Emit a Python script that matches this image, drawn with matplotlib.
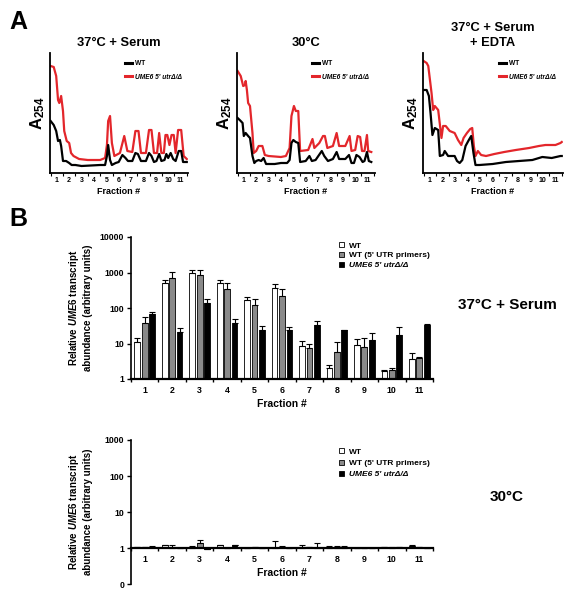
import matplotlib
matplotlib.use("Agg")
import matplotlib.pyplot as plt
import numpy as np
from matplotlib.lines import Line2D

plt.rcParams["font.family"] = ["Liberation Sans", "DejaVu Sans"]
plt.rcParams["font.weight"] = "bold"
plt.rcParams["mathtext.fontset"] = "custom"
plt.rcParams["mathtext.it"] = "Liberation Sans:italic:bold"
plt.rcParams["mathtext.bf"] = "Liberation Sans:bold"
plt.rcParams["mathtext.rm"] = "Liberation Sans:bold"

RED = "#e3262b"
GRAY = "#8a8a8a"

# ---- panel A: A254 profiles (fraction position, trace height)
serum_red_x = [0.5, 0.75, 0.95, 1.1, 1.2, 1.35, 1.5, 1.6, 1.8, 2.0, 2.15, 2.35, 2.8, 3.5, 4.5, 4.9,
               5.05, 5.15, 5.3, 5.45, 5.65, 6.1, 6.45, 6.7, 7.1, 7.35, 7.6, 7.8, 8.2, 8.45, 8.65,
               8.85, 9.1, 9.27, 9.45, 9.65, 9.78, 9.93, 10.1, 10.27, 10.45, 10.6, 10.8, 11.05, 11.25, 11.5]
serum_red_y = [107, 106, 97, 73, 70, 77, 62, 42, 32, 30, 20, 17, 14, 13, 13, 15,
               28, 52, 57, 30, 17, 20, 37, 22, 21, 42, 42, 20, 20, 43, 43,
               20, 20, 40, 20, 20, 38, 38, 28, 38, 38, 20, 43, 43, 17, 14]
serum_blk_x = [0.5, 0.75, 0.95, 1.1, 1.25, 1.35, 1.5, 1.75, 2.0, 2.2, 2.5, 3.0, 4.5, 4.9, 5.05, 5.15,
               5.3, 5.45, 5.75, 6.0, 6.3, 6.55, 6.75, 7.1, 7.35, 7.55, 7.8, 8.2, 8.45, 8.65, 8.85,
               9.05, 9.27, 9.45, 9.7, 9.85, 10.0, 10.2, 10.4, 10.6, 10.85, 11.05, 11.2, 11.5]
serum_blk_y = [52, 48, 42, 32, 33, 27, 12, 12, 10, 8, 8, 7, 8, 8, 17, 28,
               13, 8, 10, 11, 18, 15, 12, 12, 20, 19, 12, 12, 20, 17, 11,
               12, 19, 12, 13, 19, 15, 20, 14, 12, 22, 22, 11, 11]

c30_red_x = [0.5, 0.75, 0.95, 1.1, 1.15, 1.25, 1.35, 1.5, 1.7, 1.8, 2.0, 2.2, 2.5, 2.7, 3.0, 4.0,
             4.4, 4.7, 4.85, 5.05, 5.2, 5.4, 5.55, 6.2, 6.55, 6.7, 7.1, 7.4, 7.55, 7.75, 8.2,
             8.5, 8.7, 9.2, 9.55, 9.7, 10.0, 10.2, 10.4, 10.55, 10.75, 10.95, 11.05, 11.3]
c30_red_y = [102, 97, 87, 88, 92, 83, 70, 67, 40, 20, 22, 27, 27, 18, 17, 16,
             17, 25, 57, 67, 62, 62, 22, 23, 34, 25, 30, 37, 37, 25, 27,
             40, 27, 27, 37, 22, 23, 37, 36, 22, 22, 38, 22, 21]
c30_blk_x = [0.5, 0.75, 0.9, 1.0, 1.15, 1.35, 1.5, 1.7, 1.85, 2.0, 2.2, 2.4, 2.6, 2.8, 3.5, 4.0,
             4.5, 4.7, 4.85, 5.0, 5.2, 5.4, 5.55, 6.0, 6.3, 6.5, 6.8, 7.3, 7.5, 7.8, 8.2,
             8.5, 8.7, 9.2, 9.5, 9.7, 9.9, 10.1, 10.35, 10.6, 10.75, 10.95, 11.1, 11.3]
c30_blk_y = [55, 52, 50, 37, 40, 37, 35, 17, 10, 12, 13, 12, 15, 9, 9, 10,
             10, 13, 30, 33, 31, 30, 11, 12, 17, 12, 13, 22, 17, 12, 14,
             21, 14, 14, 18, 10, 10, 18, 16, 11, 12, 21, 12, 11]

edta_red_x = [0.5, 0.74, 0.87, 1.13, 1.26, 1.39, 1.66, 1.92, 2.05, 2.26, 2.58, 2.97, 3.24, 3.5,
              3.68, 3.95, 4.21, 4.37, 4.5, 4.63, 4.82, 5.08, 5.47, 6.13, 6.92, 7.84, 8.9, 9.68,
              10.2, 11.0, 11.4, 11.5]
edta_red_y = [112, 110, 107, 80, 63, 67, 63, 35, 47, 47, 42, 40, 33, 28,
              35, 40, 44, 45, 27, 17, 22, 18, 17, 19, 21, 23, 25, 27,
              28, 28, 30, 31]
edta_blk_x = [0.5, 0.74, 0.92, 1.05, 1.2, 1.39, 1.66, 1.79, 2.05, 2.18, 2.45, 2.71, 2.97, 3.16,
              3.37, 3.58, 3.84, 4.1, 4.29, 4.47, 4.63, 4.95, 6.0, 7.05, 8.1, 9.16, 9.95, 10.7,
              11.4, 11.5]
edta_blk_y = [83, 83, 77, 60, 38, 45, 43, 17, 18, 22, 17, 17, 17, 12,
              10, 13, 27, 33, 37, 20, 8, 8, 9, 11, 12, 13, 16, 15,
              17, 17]

# ---- panel B: relative UME6 transcript abundance per fraction
fractions = list(range(1, 12))
wt_37 = [11, 490, 980, 490, 168, 355, 8.5, 2.0, 8.8, 1.7, 3.6]
wt_37_sd = [3.5, 120, 230, 120, 40, 105, 3.5, 0.5, 4.4, 0.1, 1.8]
wt5_37 = [37, 720, 850, 333, 121, 216, 7.5, 5.7, 7.9, 1.8, 3.9]
wt5_37_sd = [20, 320, 360, 157, 57, 117, 2.1, 5.2, 6.8, 0.3, 0.3]
ume_37 = [66, 21, 135, 37, 24, 24, 33, 24, 12.7, 17.5, 33]
ume_37_sd = [13, 7, 40, 11, 7, 6, 10, 0.5, 6.7, 12.5, 3]

wt_30 = [1.07, 1.2, 1.0, 1.18, 1.0, 1.0, 1.0, 1.0, 1.0, 1.04, 1.15]
wt_30_sd = [0.02, 0.03, 0.12, 0.02, 0.01, 0.55, 0.25, 0.13, 0.01, 0.02, 0.05]
wt5_30 = [1.05, 1.0, 1.38, 1.0, 1.05, 1.06, 1.05, 1.0, 1.0, 1.03, 1.05]
wt5_30_sd = [0.02, 0.22, 0.3, 0.01, 0.01, 0.05, 0.03, 0.15, 0.01, 0.02, 0.02]
ume_30 = [1.1, 1.0, 0.93, 1.18, 1.0, 1.0, 1.0, 1.0, 1.0, 1.06, 1.02]
ume_30_sd = [0.02, 0.01, 0.01, 0.03, 0.01, 0.01, 0.42, 0.13, 0.01, 0.02, 0.01]

series_labels = ["WT", "WT (5' UTR primers)", "UME6 5' utrΔ/Δ"]

W, H = 578, 599
fig = plt.figure(figsize=(W / 100, H / 100), dpi=100)


def px_rect(left, top, right, bottom):
    return [left / W, 1 - bottom / H, (right - left) / W, (bottom - top) / H]


def profile(rect, title, rx, ry, bx, by):
    ax = fig.add_axes(rect)
    ax.plot(rx, ry, color=RED, lw=1.6, solid_joinstyle="round")
    ax.plot(bx, by, color="black", lw=1.6, solid_joinstyle="round")
    ax.set_xlim(0.45, 11.6)
    ax.set_ylim(0, 120)
    ax.set_yticks([])
    ax.set_xticks(fractions)
    ax.set_xticklabels([str(f) for f in fractions], fontsize=5, fontweight="bold")
    ax.tick_params(axis="x", which="major", length=0, pad=3)
    ax.set_xticks(np.arange(0.5, 12, 1), minor=True)
    ax.tick_params(axis="x", which="minor", length=2, width=0.8)
    for s in ["top", "right"]:
        ax.spines[s].set_visible(False)
    for s in ["left", "bottom"]:
        ax.spines[s].set_linewidth(1.3)
    ax.set_xlabel("Fraction #", fontsize=6.5, fontweight="bold", labelpad=2)
    ax.set_ylabel(r"$\mathbf{A_{254}}$", fontsize=12, labelpad=2)
    ax.set_title(title, fontsize=9.3, fontweight="bold", pad=5, linespacing=1.3)
    handles = [Line2D([], [], color="black", lw=2.2), Line2D([], [], color=RED, lw=2.2)]
    leg = ax.legend(handles, [series_labels[0], series_labels[2]], loc="upper left",
                    bbox_to_anchor=(0.52, 0.97), frameon=False, fontsize=4.8,
                    handlelength=1.0, handletextpad=0.5, labelspacing=1.0, borderpad=0)
    leg.get_texts()[1].set_fontstyle("italic")
    for t in leg.get_texts():
        t.set_fontweight("bold")
    return ax


profile(px_rect(50, 53, 188, 173), "37°C + Serum", serum_red_x, serum_red_y, serum_blk_x, serum_blk_y)
profile(px_rect(237, 53, 375, 173), "30°C", c30_red_x, c30_red_y, c30_blk_x, c30_blk_y)
profile(px_rect(423, 53, 563, 173), "37°C + Serum\n+ EDTA", edta_red_x, edta_red_y, edta_blk_x, edta_blk_y)


def bars(rect, data, ylim, yticks, ylabels, axis_at, legend_top, leg_space, side_label, side_y):
    ax = fig.add_axes(rect)
    ax.set_yscale("log")
    for s in ["top", "right"]:
        ax.spines[s].set_visible(False)
    ax.spines["left"].set_linewidth(1.2)
    ax.spines["bottom"].set_linewidth(1.6)
    if axis_at is not None:
        ax.spines["bottom"].set_position(("data", axis_at))
    x = np.array(fractions, dtype=float)
    colors = ["white", GRAY, "black"]
    offsets = [-0.27, 0.0, 0.27]
    handles = []
    for (vals, sd), fc, off, lab in zip(data, colors, offsets, series_labels):
        vals = np.array(vals)
        h = ax.bar(x + off, vals - 1, bottom=1, width=0.21, color=fc, edgecolor="black",
                   linewidth=0.6, label=lab, zorder=2)
        ax.errorbar(x + off, vals, yerr=[np.zeros(len(vals)), sd], fmt="none", ecolor="black",
                    elinewidth=0.8, capsize=2.2, capthick=0.8, zorder=3)
        handles.append(h)
    ax.set_ylim(*ylim)
    ax.set_xlim(0.5, 11.5)
    ax.yaxis.set_major_locator(plt.FixedLocator(yticks))
    ax.yaxis.set_minor_locator(plt.NullLocator())
    ax.set_yticklabels(ylabels, fontsize=6.3, fontweight="bold")
    ax.tick_params(axis="y", length=3, width=1.0, pad=2)
    ax.set_xticks(fractions)
    ax.set_xticklabels([str(f) for f in fractions], fontsize=6.3, fontweight="bold")
    ax.tick_params(axis="x", which="major", length=0, pad=5)
    ax.set_xticks(np.arange(0.5, 12, 1), minor=True)
    ax.tick_params(axis="x", which="minor", length=2.5, width=1.0)
    ax.set_xlabel("Fraction #", fontsize=7.5, fontweight="bold", labelpad=3)
    leg = ax.legend(handles, series_labels, loc="upper left", bbox_to_anchor=(335 / W, legend_top),
                    bbox_transform=fig.transFigure, frameon=False, fontsize=6, borderpad=0,
                    handlelength=0.6, handleheight=0.6, handletextpad=0.6, labelspacing=leg_space)
    leg.get_texts()[2].set_fontstyle("italic")
    for t in leg.get_texts():
        t.set_fontweight("bold")
    cy = rect[1] + rect[3] / 2
    fig.text(80 / W, cy, "Relative $\\mathit{UME6}$ transcript\nabundance (arbitrary units)",
             rotation=90, ha="center", va="center", multialignment="center",
             fontsize=7, fontweight="bold")
    fig.text(507 / W, 1 - side_y / H, side_label, ha="center", va="center",
             fontsize=11, fontweight="bold")
    return ax


bars(px_rect(131, 237, 433, 379),
     [(wt_37, wt_37_sd), (wt5_37, wt5_37_sd), (ume_37, ume_37_sd)],
     (1, 10000), [1, 10, 100, 1000, 10000], ["1", "10", "100", "1000", "10000"], None,
     (599 - 238) / H, 0.25, "37°C + Serum", 305)

bars(px_rect(131, 440, 433, 584),
     [(wt_30, wt_30_sd), (wt5_30, wt5_30_sd), (ume_30, ume_30_sd)],
     (0.1, 1000), [0.1, 1, 10, 100, 1000], ["0", "1", "10", "100", "1000"], 1,
     (599 - 444) / H, 0.45, "30°C", 497)

fig.text(9 / W, 1 - 10 / H, "A", fontsize=18, fontweight="bold", va="top", ha="left")
fig.text(9 / W, 1 - 207 / H, "B", fontsize=18, fontweight="bold", va="top", ha="left")

fig.savefig("out.png", dpi=100)
